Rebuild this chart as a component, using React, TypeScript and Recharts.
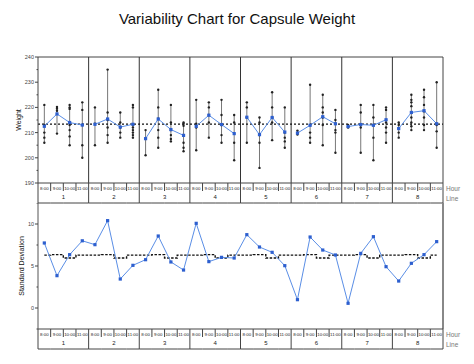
import { ComposedChart, Line, Scatter, ErrorBar, XAxis, YAxis, ReferenceLine } from 'recharts'

const hours = ['8:00', '9:00', '10:00', '11:00']
const lines = ['1', '2', '3', '4', '5', '6', '7', '8']

// observations per hour, one array per line
const line1Weights = [
  [221, 213, 210, 208, 206],
  [220.2, 219.5, 218.7, 209.6],
  [221, 220, 219.4, 213, 211, 208.5, 205],
  [222, 219, 213, 205, 200],
]
const line2Weights = [
  [220, 213.5, 205],
  [235, 218, 215, 212, 209, 206],
  [218, 214, 212, 210, 208],
  [221, 220, 213, 212, 211, 210, 209, 208],
]
const line3Weights = [
  [211, 207.5, 201],
  [227, 220, 215.5, 211, 208, 204],
  [221, 214, 211, 209, 207.5, 206.5],
  [214, 213.5, 212.7, 209, 206, 204, 202.6],
]
const line4Weights = [
  [223, 213.5, 212, 203],
  [222, 220, 217, 214, 208],
  [223, 217, 213, 209, 206],
  [217, 214, 209.5, 206, 199],
]
const line5Weights = [
  [222, 220, 216, 206],
  [216, 214, 209, 206, 196],
  [226, 220, 216, 214, 207],
  [220, 210, 208, 206.5, 204],
]
const line6Weights = [
  [210.8, 210, 209.2],
  [229, 213, 210, 208, 206],
  [225, 220, 218, 216, 213, 205],
  [219, 215, 213.5, 211, 210, 202],
]
const line7Weights = [
  [213, 212.5, 212],
  [221, 218, 213, 212, 202],
  [221, 216, 213, 208, 199],
  [220, 219, 215, 214, 212, 210, 206],
]
const line8Weights = [
  [214, 213, 211.5, 210, 208],
  [225, 223, 222, 220.5, 218, 216, 214, 212.5, 211],
  [227, 224, 221, 218.5, 216, 213, 211],
  [230, 213.5, 213, 210.5, 204],
]

const line1Means = [212.5, 217.4, 214, 213]
const line2Means = [213.3, 215.4, 212.2, 213.3]
const line3Means = [207.6, 215.4, 211.2, 208.9]
const line4Means = [212.5, 216.9, 213.2, 209.6]
const line5Means = [216.1, 209.2, 216, 210.2]
const line6Means = [209.8, 212.9, 216.3, 213.5]
const line7Means = [212.4, 213.2, 212.9, 215.1]
const line8Means = [211.6, 218, 218.7, 213.5]

const grandMean = 213.4

const stdDev = [
  7.74, 3.85, 6.35, 8.0, 7.54, 10.4, 3.45, 5.08,
  5.75, 8.57, 5.48, 4.52, 10.08, 5.52, 6.03, 5.95,
  8.73, 7.26, 6.63, 5.04, 0.99, 8.45, 6.9, 6.31,
  0.56, 6.5, 8.49, 4.92, 3.21, 5.32, 6.35, 7.9,
]
const hourStdMeans = [6.3, 6.35, 5.95, 6.3]

const weightTicks = [190, 195, 200, 205, 210, 215, 220, 225, 230, 235, 240]
const sdTicks = [-2.5, 0, 2.5, 5, 7.5, 10, 12.5]

const weightsByLine = [line1Weights, line2Weights, line3Weights, line4Weights, line5Weights, line6Weights, line7Weights, line8Weights]
const meansByLine = [line1Means, line2Means, line3Means, line4Means, line5Means, line6Means, line7Means, line8Means]

// one row per line/hour cell; err = distance from cell mean to min and max
const cells = weightsByLine.flatMap((ws, g) =>
  ws.map((obs, h) => {
    const mean = meansByLine[g][h]
    return {
      x: g * 4 + h + 0.5,
      mean,
      err: [mean - Math.min(...obs), Math.max(...obs) - mean],
    }
  }),
)
const points = weightsByLine.flatMap((ws, g) =>
  ws.flatMap((obs, h) => obs.map((y) => ({ x: g * 4 + h + 0.5, y }))),
)
const meanSeries = meansByLine.map((ms, g) => ms.map((mean, h) => ({ x: g * 4 + h + 0.5, mean })))

const sdData = stdDev.map((sd, i) => ({ x: i + 0.5, sd }))
const sdStep = [
  { x: 0.5, v: hourStdMeans[0] },
  ...Array.from({ length: 31 }, (_, k) => ({ x: k + 1, v: hourStdMeans[(k + 1) % 4] })),
  { x: 31.5, v: hourStdMeans[3] },
]

const W = 474
const LEFT = 38
const RIGHT = 31
const PLOT_W = W - LEFT - RIGHT
const CELL = PLOT_W / 32
const BOX_H = 20
const BLUE = '#5a8ee6'
const MARK = '#2d5fcf'

function CellTick(props: any) {
  const { x, y, payload } = props
  const i = Math.round(payload.value - 0.5)
  const h = i % 4
  const l = x - CELL / 2
  const r = x + CELL / 2
  return (
    <g>
      <line x1={l} x2={r} y1={y + BOX_H} y2={y + BOX_H} stroke="#444" />
      <line x1={l} x2={l} y1={y} y2={h === 0 ? y + BOX_H : y + 8} stroke="#444" />
      {i === 31 && <line x1={r} x2={r} y1={y} y2={y + BOX_H} stroke="#444" />}
      <text x={x} y={y + 6.5} fontSize={4.4} textAnchor="middle" fill="#222">{hours[h]}</text>
      {h === 1 && (
        <text x={r} y={y + 16} fontSize={6} textAnchor="middle" fill="#222">{lines[(i - 1) / 4]}</text>
      )}
      {i === 31 && (
        <>
          <text x={r + 3} y={y + 7.5} fontSize={6.5} fill="#777">Hour</text>
          <text x={r + 3} y={y + 17.5} fontSize={6.5} fill="#777">Line</text>
        </>
      )}
    </g>
  )
}

function makeYTick(step: number) {
  return (props: any) => {
    const { x, y, payload } = props
    const major = payload.value % step === 0
    return (
      <g>
        <line x1={x - (major ? 3 : 1.5)} x2={x} y1={y} y2={y} stroke="#444" />
        {major && (
          <text x={x - 4} y={y + 2} fontSize={5.5} textAnchor="end" fill="#444">{payload.value}</text>
        )}
      </g>
    )
  }
}

const meanDot = (p: any) => <rect x={p.cx - 1.6} y={p.cy - 1.6} width={3.2} height={3.2} fill={MARK} />
const obsDot = (p: any) => <circle cx={p.cx} cy={p.cy} r={1.2} fill="#222" />
const noDot = () => <g />

export default function App() {
  return (
    <div style={{ position: 'absolute', left: 0, top: 0, width: W, height: 364, background: '#fff', fontFamily: '"Liberation Sans", Arial, sans-serif' }}>
      <div style={{ position: 'absolute', left: 0, top: 10, width: W, textAlign: 'center', fontSize: 15, color: '#111' }}>
        Variability Chart for Capsule Weight
      </div>
      <div style={{ position: 'absolute', left: 0, top: 0 }}>
        <ComposedChart width={W} height={204} margin={{ top: 57, right: RIGHT, bottom: 1, left: 0 }}>
          <XAxis dataKey="x" type="number" domain={[0, 32]} ticks={cells.map((c) => c.x)} interval={0}
            tickSize={0} tickMargin={0} height={BOX_H} tick={CellTick} axisLine={{ stroke: '#444' }} tickLine={false} allowDataOverflow />
          <YAxis type="number" domain={[190, 240]} ticks={weightTicks} interval={0} width={LEFT} allowDataOverflow
            tickSize={0} tickMargin={0} tickLine={false} tick={makeYTick(10)} axisLine={{ stroke: '#444' }}
            label={{ value: 'Weight', angle: -90, position: 'insideLeft', offset: 19, fontSize: 7, fill: '#111', style: { textAnchor: 'middle' } }} />
          <ReferenceLine y={240} stroke="#444" />
          <ReferenceLine x={32} stroke="#444" />
          {[4, 8, 12, 16, 20, 24, 28].map((b) => (
            <ReferenceLine key={b} x={b} stroke="#333" />
          ))}
          <Scatter data={cells} dataKey="mean" shape={noDot} isAnimationActive={false}>
            <ErrorBar dataKey="err" direction="y" width={0} stroke="#777" strokeWidth={1} isAnimationActive={false} />
          </Scatter>
          <ReferenceLine y={grandMean} stroke="#111" strokeWidth={1.2} strokeDasharray="2 2" />
          <Scatter data={points} dataKey="y" shape={obsDot} isAnimationActive={false} />
          {meanSeries.map((s, g) => (
            <Line key={g} data={s} dataKey="mean" stroke={BLUE} strokeWidth={1} dot={meanDot} activeDot={false} isAnimationActive={false} />
          ))}
        </ComposedChart>
      </div>
      <div style={{ position: 'absolute', left: 0, top: 203 }}>
        <ComposedChart width={W} height={147} data={sdData} margin={{ top: 0, right: RIGHT, bottom: 1, left: 0 }}>
          <XAxis dataKey="x" type="number" domain={[0, 32]} ticks={sdData.map((d) => d.x)} interval={0}
            tickSize={0} tickMargin={0} height={BOX_H} tick={CellTick} axisLine={{ stroke: '#444' }} tickLine={false} allowDataOverflow />
          <YAxis type="number" domain={[-2.5, 12.5]} ticks={sdTicks} interval={0} width={LEFT}
            tickSize={0} tickMargin={0} tickLine={false} tick={makeYTick(5)} axisLine={{ stroke: '#555' }}
            label={{ value: 'Standard Deviation', angle: -90, position: 'insideLeft', offset: 22, fontSize: 7, fill: '#111', style: { textAnchor: 'middle' } }} />
          <ReferenceLine x={32} stroke="#888" strokeWidth={2} />
          <Line data={sdStep} dataKey="v" type="stepAfter" stroke="#111" strokeWidth={1.4} strokeDasharray="2.5 1.5" dot={false} activeDot={false} isAnimationActive={false} />
          <Line dataKey="sd" stroke={BLUE} strokeWidth={1} dot={meanDot} activeDot={false} isAnimationActive={false} />
        </ComposedChart>
      </div>
    </div>
  )
}
